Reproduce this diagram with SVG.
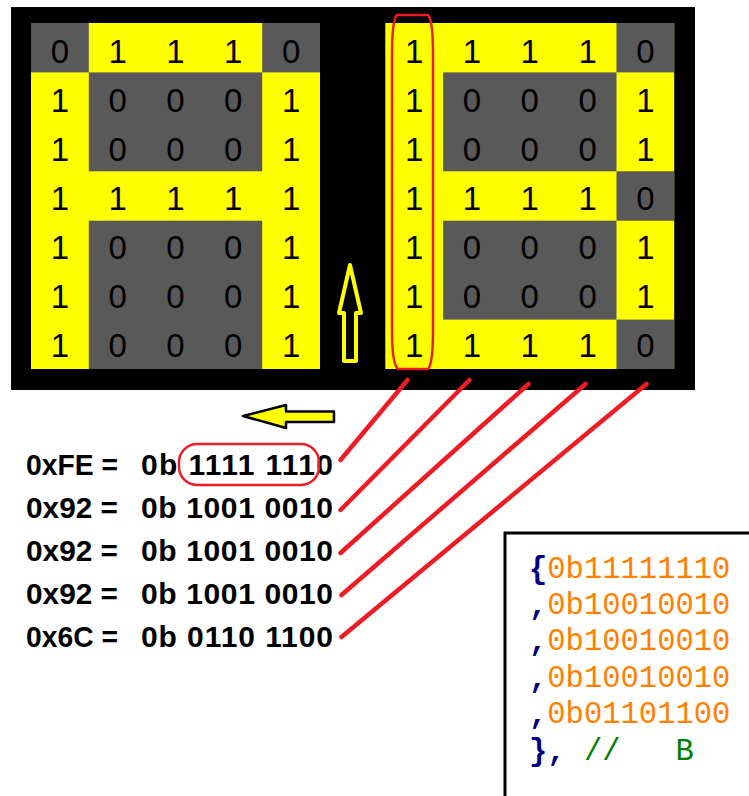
<svg xmlns="http://www.w3.org/2000/svg" width="749" height="796" viewBox="0 0 749 796">
  <style>
    .one { fill: #FFFF00; }
    .zero { fill: #595959; }
    .cell { font-family: "Liberation Sans", Arial, sans-serif; font-size: 33px; fill: #000; text-anchor: middle; }
    .hex { font-family: "Liberation Sans", Arial, sans-serif; font-size: 30px; font-weight: bold; fill: #000; }
    .wire { stroke: #ED1C24; stroke-width: 4.5; stroke-linecap: round; fill: none; }
    .ring { stroke: #ED1C24; stroke-width: 2.5; fill: none; }
    .code { font-family: "Liberation Mono", "Courier New", monospace; font-size: 30.5px; white-space: pre; }
    .op { fill: #000080; font-weight: bold; }
    .num { fill: #FF8000; }
    .cmt { fill: #008000; }
  </style>

  <rect x="0" y="0" width="749" height="796" fill="#fff"/>

  <!-- black panel holding both bitmaps -->
  <rect id="panel" x="11" y="7" width="684" height="383" fill="#000"/>

  <!-- letter A, 5 columns x 7 rows -->
  <g id="grid-a">
    <rect class="one" x="31" y="23" width="289" height="346"/>
    <rect class="zero" x="31" y="23" width="57.8" height="49.4"/>
    <rect class="zero" x="262.2" y="23" width="57.8" height="49.4"/>
    <rect class="zero" x="88.8" y="72.4" width="173.4" height="98.9"/>
    <rect class="zero" x="88.8" y="220.7" width="173.4" height="148.3"/>
    <g class="cell">
      <text x="59.9 117.7 175.5 233.3 291.1" y="62.5">01110</text>
      <text x="59.9 117.7 175.5 233.3 291.1" y="111.5">10001</text>
      <text x="59.9 117.7 175.5 233.3 291.1" y="160.5">10001</text>
      <text x="59.9 117.7 175.5 233.3 291.1" y="209.5">11111</text>
      <text x="59.9 117.7 175.5 233.3 291.1" y="258.5">10001</text>
      <text x="59.9 117.7 175.5 233.3 291.1" y="307.5">10001</text>
      <text x="59.9 117.7 175.5 233.3 291.1" y="356.5">10001</text>
    </g>
  </g>

  <!-- letter B, 5 columns x 7 rows -->
  <g id="grid-b">
    <rect class="one" x="385.3" y="23" width="288.9" height="346"/>
    <rect class="zero" x="616.5" y="23" width="57.8" height="49.4"/>
    <rect class="zero" x="443.1" y="72.4" width="173.4" height="98.9"/>
    <rect class="zero" x="616.5" y="171.3" width="57.8" height="49.4"/>
    <rect class="zero" x="443.1" y="220.7" width="173.4" height="98.9"/>
    <rect class="zero" x="616.5" y="319.6" width="57.8" height="49.4"/>
    <g class="cell">
      <text x="414.2 472 529.8 587.6 645.4" y="62.5">11110</text>
      <text x="414.2 472 529.8 587.6 645.4" y="111.5">10001</text>
      <text x="414.2 472 529.8 587.6 645.4" y="160.5">10001</text>
      <text x="414.2 472 529.8 587.6 645.4" y="209.5">11110</text>
      <text x="414.2 472 529.8 587.6 645.4" y="258.5">10001</text>
      <text x="414.2 472 529.8 587.6 645.4" y="307.5">10001</text>
      <text x="414.2 472 529.8 587.6 645.4" y="356.5">11110</text>
    </g>
    <!-- first column highlighted -->
    <path class="ring" d="M397,15 L428,15 Q433,20 433,55 L433,330 Q433,364 428,369 L398,369 Q392,364 392,330 L392,55 Q392,20 397,15 Z"/>
  </g>

  <!-- column bytes -->
  <g id="hex-lines" class="hex">
    <text x="26" y="475" textLength="92" lengthAdjust="spacingAndGlyphs">0xFE =</text>
    <text x="141" y="475" textLength="192" lengthAdjust="spacing">0b 1111 1110</text>
    <text x="26" y="518" textLength="92" lengthAdjust="spacingAndGlyphs">0x92 =</text>
    <text x="141" y="518" textLength="192" lengthAdjust="spacing">0b 1001 0010</text>
    <text x="26" y="561" textLength="92" lengthAdjust="spacingAndGlyphs">0x92 =</text>
    <text x="141" y="561" textLength="192" lengthAdjust="spacing">0b 1001 0010</text>
    <text x="26" y="604" textLength="92" lengthAdjust="spacingAndGlyphs">0x92 =</text>
    <text x="141" y="604" textLength="192" lengthAdjust="spacing">0b 1001 0010</text>
    <text x="26" y="647" textLength="92" lengthAdjust="spacingAndGlyphs">0x6C =</text>
    <text x="141" y="647" textLength="192" lengthAdjust="spacing">0b 0110 1100</text>
    <rect class="ring" x="179" y="444" width="140" height="41" rx="18"/>
  </g>

  <!-- connectors: scan arrows and column-to-byte links -->
  <g id="connectors">
    <polygon points="350,265 361,313 356,313 356,361 344,361 344,313 339,313" fill="none" stroke="#FFFF00" stroke-width="4" stroke-linejoin="round"/>
    <polygon points="243,416 286,405 286,411.5 334,411.5 334,422 286,422 286,428" fill="#FFFF00" stroke="#000" stroke-width="2.5" stroke-linejoin="round"/>
    <line class="wire" x1="407.5" y1="380" x2="340.5" y2="460"/>
    <line class="wire" x1="469.5" y1="380" x2="340.5" y2="510"/>
    <line class="wire" x1="528.5" y1="384" x2="340.5" y2="553"/>
    <line class="wire" x1="585.5" y1="384" x2="341.5" y2="595"/>
    <line class="wire" x1="646.5" y1="384" x2="341.5" y2="637"/>
  </g>

  <!-- source listing -->
  <g id="code-box">
    <rect x="505" y="533" width="260" height="290" fill="#fff" stroke="#000" stroke-width="3"/>
    <text class="code" x="529" y="578"><tspan class="op">{</tspan><tspan class="num">0b11111110</tspan></text>
    <text class="code" x="529" y="614"><tspan class="op">,</tspan><tspan class="num">0b10010010</tspan></text>
    <text class="code" x="529" y="650"><tspan class="op">,</tspan><tspan class="num">0b10010010</tspan></text>
    <text class="code" x="529" y="687"><tspan class="op">,</tspan><tspan class="num">0b10010010</tspan></text>
    <text class="code" x="529" y="723"><tspan class="op">,</tspan><tspan class="num">0b01101100</tspan></text>
    <text class="code" x="529" y="760"><tspan class="op">},</tspan><tspan> </tspan><tspan class="cmt">//   B</tspan></text>
  </g>
</svg>
